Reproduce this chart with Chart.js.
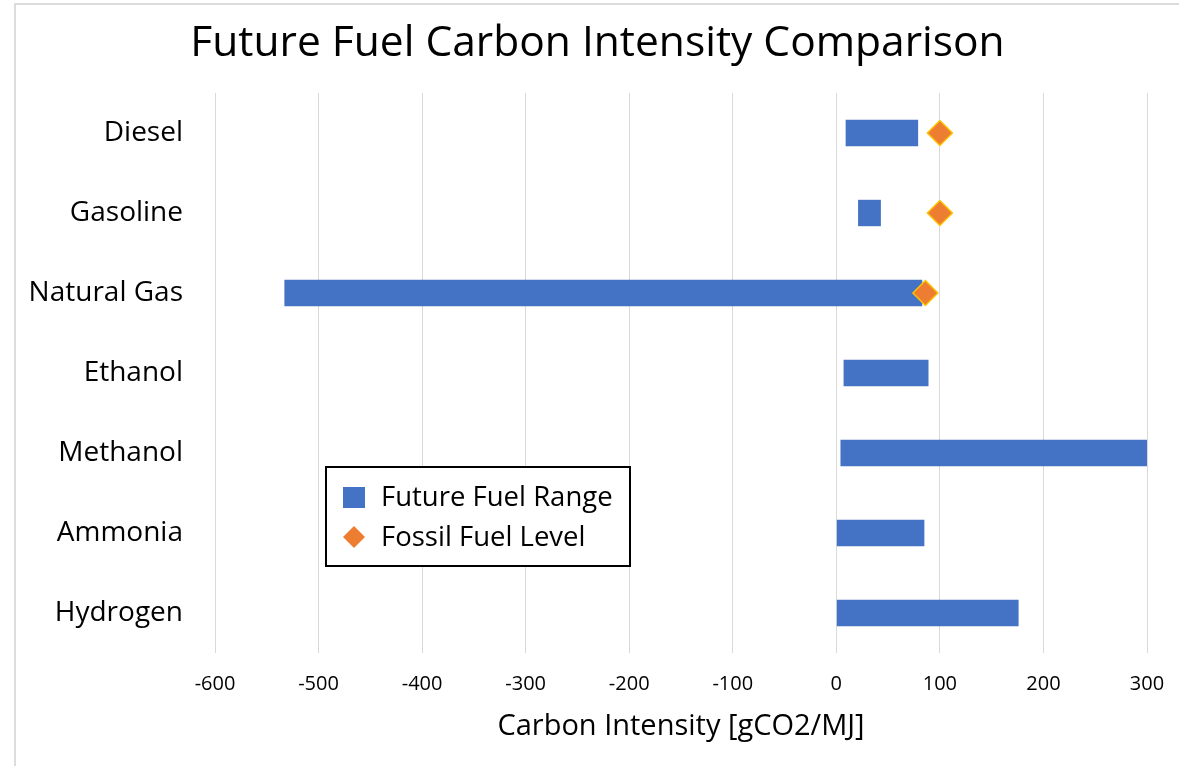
<!DOCTYPE html>
<html>
<head>
<meta charset="utf-8">
<title>Future Fuel Carbon Intensity Comparison</title>
<script src="https://cdn.jsdelivr.net/npm/chart.js@4.4.1/dist/chart.umd.min.js"></script>
<style>
  html, body { margin: 0; padding: 0; background: #ffffff; overflow: hidden; width: 1179px; height: 766px; }
  #wrap { position: absolute; left: 0; top: 0; width: 1195px; height: 766px; }
  #frame { position: absolute; left: 14px; top: 3px; width: 1200px; height: 800px;
           border: 2px solid #dcdcdc; box-sizing: border-box; pointer-events: none; }
</style>
</head>
<body>
<div id="wrap"><canvas id="chart" width="1195" height="766"></canvas></div>
<div id="frame"></div>
<script>
// Fuels shown on the category axis (top to bottom)
const categories = ['Diesel', 'Gasoline', 'Natural Gas', 'Ethanol', 'Methanol', 'Ammonia', 'Hydrogen'];
// Future fuel carbon intensity range, gCO2/MJ
const rangeLow  = [9, 21, -533, 7, 4, 0, 0];
const rangeHigh = [79, 43, 83, 89, 300, 85, 176];
// Carbon intensity of the fossil counterpart (only where one exists)
const fossilLevel = [100, 100, 86, null, null, null, null];
// Value axis ticks
const xTicks = [-600, -500, -400, -300, -200, -100, 0, 100, 200, 300];

const chartTitle = 'Future Fuel Carbon Intensity Comparison';

const FONT = "'Open Sans', 'DejaVu Sans', sans-serif";
const BLUE = '#4472C4';
const ORANGE = '#ED7D31';
const GOLD = '#FFC000';

// Title centred on the outer chart frame rather than the padded layout box
const frameTitle = {
  id: 'frameTitle',
  afterDraw(chart, args, opts) {
    const ctx = chart.ctx;
    ctx.save();
    ctx.font = opts.size + 'px ' + FONT;
    ctx.fillStyle = '#000000';
    ctx.textAlign = 'center';
    ctx.textBaseline = 'alphabetic';
    ctx.fillText(opts.text, opts.x, opts.baseline);
    ctx.restore();
  }
};

// Boxed legend drawn inside the plot area
const boxedLegend = {
  id: 'boxedLegend',
  afterDraw(chart) {
    const ctx = chart.ctx;
    const x0 = 326, y0 = 467, w = 304, h = 99;
    ctx.save();
    ctx.fillStyle = '#ffffff';
    ctx.fillRect(x0, y0, w, h);
    ctx.lineWidth = 2;
    ctx.strokeStyle = '#000000';
    ctx.strokeRect(x0, y0, w, h);
    ctx.font = '27.5px ' + FONT;
    ctx.textBaseline = 'middle';
    ctx.textAlign = 'left';
    const ds = chart.data.datasets;
    // bar series: square marker
    ctx.fillStyle = ds[0].backgroundColor;
    ctx.fillRect(343, 487, 22, 21);
    ctx.fillStyle = '#000000';
    ctx.fillText(ds[0].label, 381, 498);
    // fossil series: diamond marker
    ctx.beginPath();
    const cx = 354, cy = 537, r = 11;
    ctx.moveTo(cx, cy - r); ctx.lineTo(cx + r, cy); ctx.lineTo(cx, cy + r); ctx.lineTo(cx - r, cy);
    ctx.closePath();
    ctx.fillStyle = ds[1].backgroundColor;
    ctx.fill();
    ctx.fillStyle = '#000000';
    ctx.fillText(ds[1].label, 381, 538);
    ctx.restore();
  }
};

new Chart(document.getElementById('chart'), {
  data: {
    labels: categories,
    datasets: [
      {
        type: 'bar',
        label: 'Future Fuel Range',
        data: categories.map((c, i) => [rangeLow[i], rangeHigh[i]]),
        backgroundColor: BLUE,
        borderWidth: 0,
        categoryPercentage: 1,
        barPercentage: 0.33,
        order: 1
      },
      {
        type: 'line',
        label: 'Fossil Fuel Level',
        data: fossilLevel,
        showLine: false,
        pointStyle: 'rectRot',
        pointRadius: 12.5,
        pointHoverRadius: 12.5,
        backgroundColor: ORANGE,
        borderColor: GOLD,
        pointBorderWidth: 1.5,
        order: 0
      }
    ]
  },
  options: {
    indexAxis: 'y',
    responsive: false,
    animation: false,
    devicePixelRatio: 1,
    layout: { padding: { left: 10, right: 48, top: 93, bottom: 0 } },
    plugins: {
      legend: { display: false },
      tooltip: { enabled: false },
      title: { display: false },
      frameTitle: { text: chartTitle, size: 42.5, x: 597.5, baseline: 56 }
    },
    scales: {
      x: {
        type: 'linear',
        min: xTicks[0],
        max: xTicks[xTicks.length - 1],
        afterBuildTicks(scale) { scale.ticks = xTicks.map(v => ({ value: v })); },
        afterFit(scale) { scale.height = 113; },
        grid: { color: '#d9d9d9', lineWidth: 1, drawTicks: false },
        border: { display: false },
        ticks: { color: '#000000', font: { family: FONT, size: 20 }, padding: 19 },
        title: {
          display: true,
          text: 'Carbon Intensity [gCO2/MJ]',
          color: '#000000',
          font: { family: FONT, size: 29 },
          padding: { top: 0, bottom: 21.6 }
        }
      },
      y: {
        type: 'category',
        offset: true,
        afterFit(scale) { scale.width = 205; },
        grid: { display: false, drawTicks: false },
        border: { display: false },
        ticks: { color: '#000000', font: { family: FONT, size: 28 }, padding: 32 }
      }
    }
  },
  plugins: [frameTitle, boxedLegend]
});
</script>
</body>
</html>
